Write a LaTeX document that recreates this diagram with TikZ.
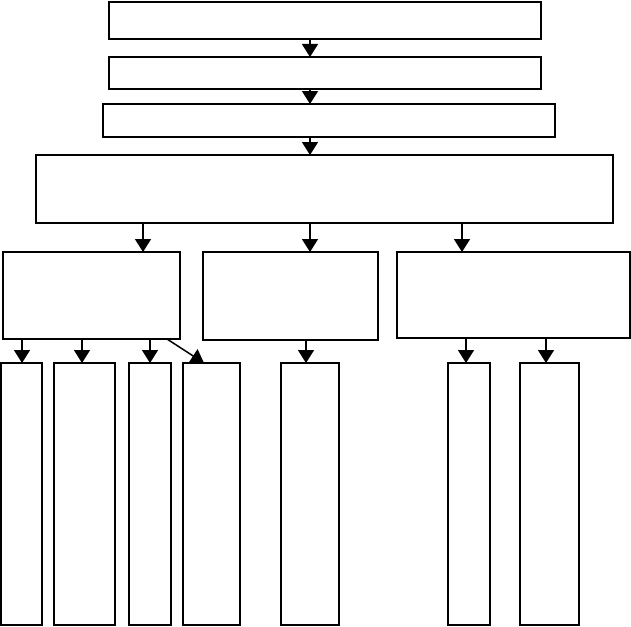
\documentclass[tikz,border=0pt]{standalone}
\usetikzlibrary{arrows.meta}
\begin{document}
\begin{tikzpicture}[x=1pt,y=-1pt,
  box/.style={draw=black,fill=white,inner sep=0pt,outer sep=0pt,line width=1.8pt},
  arr/.style={line width=1.5pt,-{Triangle[width=16pt,length=13pt]}}]
\useasboundingbox (0,0) rectangle (631,626);
% top chain
\node[box,line width=2.5pt,minimum width=432pt,minimum height=37pt] (A) at (325,20.5) {};
\node[box,line width=1.5pt,minimum width=432pt,minimum height=32pt] (B) at (325,73) {};
\node[box,line width=2.5pt,minimum width=452pt,minimum height=33pt] (C) at (329,120.5) {};
\node[box,line width=1.8pt,minimum width=577pt,minimum height=68pt] (D) at (324.5,189) {};
% second row
\node[box,line width=2pt,minimum width=177pt,minimum height=87pt] (E) at (91.5,295.5) {};
\node[box,line width=1.7pt,minimum width=175pt,minimum height=88pt] (F) at (290.5,296) {};
\node[box,line width=1.7pt,minimum width=233pt,minimum height=86pt] (G) at (513.5,295) {};
% third row
\node[box,line width=2pt,minimum width=41pt,minimum height=262pt] (r1) at (21.5,494) {};
\node[box,line width=1.8pt,minimum width=61pt,minimum height=262pt] (r2) at (84.5,494) {};
\node[box,line width=1.7pt,minimum width=42pt,minimum height=262pt] (r3) at (150,494) {};
\node[box,line width=1.8pt,minimum width=57pt,minimum height=262pt] (r4) at (211.5,494) {};
\node[box,line width=1.5pt,minimum width=58pt,minimum height=262pt] (r5) at (310,494) {};
\node[box,line width=1.7pt,minimum width=42pt,minimum height=262pt] (r6) at (469,494) {};
\node[box,line width=1.8pt,minimum width=59pt,minimum height=262pt] (r7) at (549.5,494) {};
% helper x positions
\coordinate (xm) at (310,0);
\coordinate (x143) at (143,0);
\coordinate (x462) at (462,0);
\coordinate (x22) at (22,0);
\coordinate (x82) at (82,0);
\coordinate (x150) at (150,0);
\coordinate (x306) at (306,0);
\coordinate (x466) at (466,0);
\coordinate (x546) at (546,0);
\coordinate (xd1) at (167,0);
\coordinate (xd2) at (204,0);
% arrows
\draw[arr] (A.south -| xm) -- (B.north -| xm);
\draw[arr] (B.south -| xm) -- (C.north -| xm);
\draw[arr] (C.south -| xm) -- (D.north -| xm);
\draw[arr] ([yshift=-1pt]D.south -| x143) -- (E.north -| x143);
\draw[arr] ([yshift=-1pt]D.south -| xm) -- (F.north -| xm);
\draw[arr] ([yshift=-1pt]D.south -| x462) -- (G.north -| x462);
\draw[arr] (E.south -| x22) -- (r1.north -| x22);
\draw[arr] (E.south -| x82) -- (r2.north -| x82);
\draw[arr] (E.south -| x150) -- (r3.north -| x150);
\draw[arr] (E.south -| xd1) -- (r4.north -| xd2);
\draw[arr] (F.south -| x306) -- (r5.north -| x306);
\draw[arr] (G.south -| x466) -- (r6.north -| x466);
\draw[arr] (G.south -| x546) -- (r7.north -| x546);
\end{tikzpicture}
\end{document}
